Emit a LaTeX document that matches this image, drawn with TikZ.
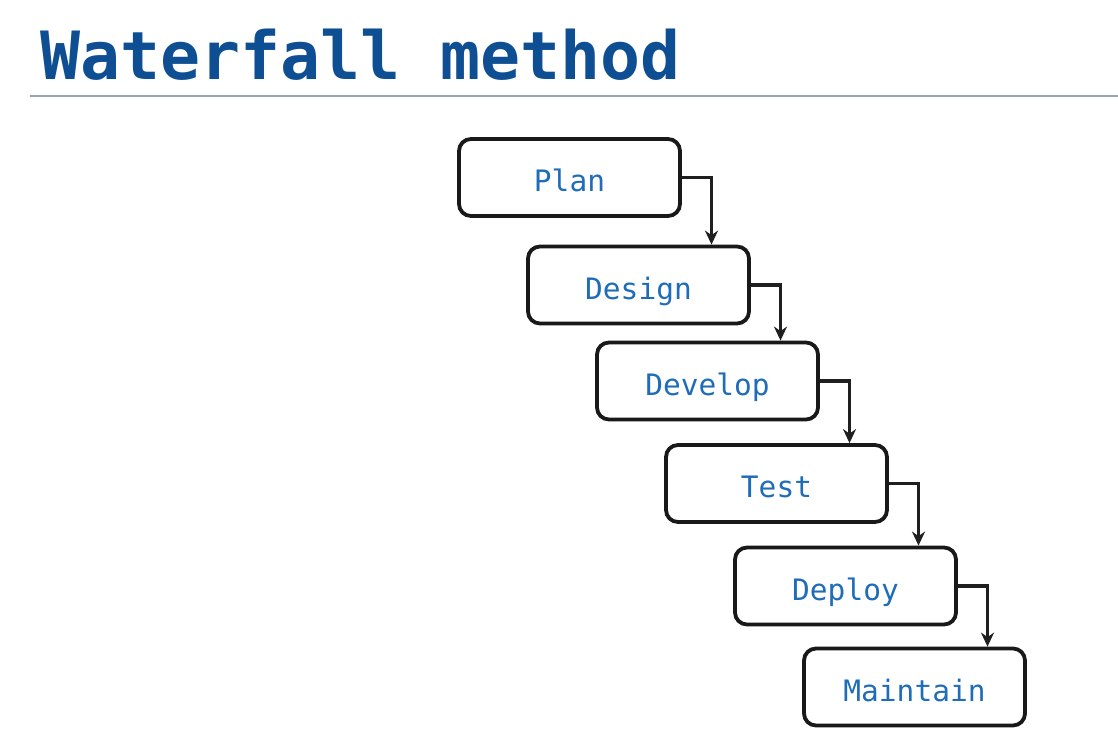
\documentclass[tikz,border=0pt]{standalone}
\usepackage{fontspec}
\setmonofont{DejaVu Sans Mono}
\usetikzlibrary{arrows.meta}
\definecolor{titleblue}{HTML}{0E4F94}
\definecolor{textblue}{HTML}{1F6DB8}
\definecolor{rulegray}{HTML}{9AA5AE}
\newcommand{\stagetext}[1]{\raisebox{-14pt}[0pt][0pt]{#1}}
\tikzset{
  stage/.style={draw=black!90, line width=3.8pt, rounded corners=12pt, fill=white,
    minimum width=221pt, minimum height=77pt, inner sep=0pt,
    font=\ttfamily\fontsize{29.5}{29.5}\selectfont, text=textblue},
  flow/.style={draw=black!88, line width=3.4pt, -{Stealth[length=14pt,width=13pt]}}
}
\begin{document}
\begin{tikzpicture}[x=1pt,y=-1pt]
\useasboundingbox (0,0) rectangle (1118,741);
\fill[white] (0,0) rectangle (1118,741);
\node[anchor=base west, inner sep=0pt, text=titleblue, font=\ttfamily\bfseries\fontsize{66.5}{66.5}\selectfont] (title) at (40,80) {Waterfall method};
\coordinate (rl) at (30,96);
\coordinate (rr) at (1118,96);
\draw[rulegray, line width=1.8pt] (rl) -- (rr);
\node[stage] (plan) at (569.5,177.5) {\stagetext{Plan}};
\node[stage] (design) at (638.5,285) {\stagetext{Design}};
\node[stage] (develop) at (707.5,381) {\stagetext{Develop}};
\node[stage] (test) at (776.5,483.5) {\stagetext{Test}};
\node[stage] (deploy) at (845.5,586) {\stagetext{Deploy}};
\node[stage] (maintain) at (914.5,687) {\stagetext{Maintain}};
\foreach \a/\b in {plan/design, design/develop, develop/test, test/deploy, deploy/maintain}{
  \draw[flow] (\a.east) -| ([xshift=73pt]\b.north);
}
\end{tikzpicture}
\end{document}
